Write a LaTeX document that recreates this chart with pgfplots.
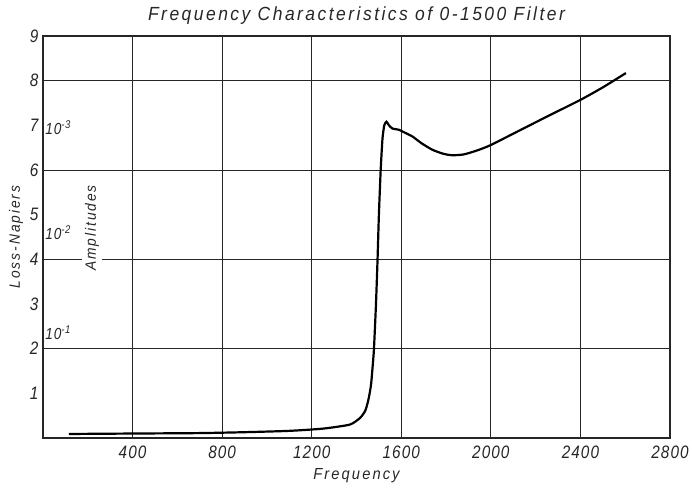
\documentclass[border=0pt]{standalone}
\usepackage{pgfplots}
\pgfplotsset{compat=1.18}
\usepackage{fontspec}
\setmainfont{Liberation Sans}
\newfontfamily\lett[LetterSpace=13, FakeStretch=0.92]{Liberation Sans}
\newfontfamily\digs[LetterSpace=6, FakeStretch=0.85]{Liberation Sans}
\begin{document}
\begin{tikzpicture}
\useasboundingbox (-43pt,-49pt) rectangle (649pt,438pt);
\begin{axis}[
  at={(0,0)}, anchor=south west,
  scale only axis, width=627pt, height=402pt,
  xmin=0, xmax=2800, ymin=0, ymax=9,
  xtick={400,800,...,2800}, ytick={1,...,9},
  xmajorgrids,
  extra y ticks={2,4,6,8}, extra y tick labels={},
  extra y tick style={ymajorgrids=true},
  grid style={black!85, line width=0.8pt},
  major tick length=0pt,
  axis line style={line width=1.1pt, black!85},
  /pgf/number format/assume math mode=true,
  /pgf/number format/1000 sep={},
  tick label style={font=\digs\itshape\fontsize{18}{18}\selectfont, black!85},
  yticklabel style={xshift=-1pt},
  xticklabel style={yshift=-4pt},
  title={Frequency Characteristics of 0-1500 Filter},
  title style={at={(axis description cs:0.5,1)}, anchor=center, yshift=14pt,
    font=\lett\itshape\fontsize{19}{19}\selectfont, black!85},
  xlabel={Frequency},
  xlabel style={at={(axis description cs:0.5,0)}, anchor=center, yshift=-38pt,
    font=\lett\itshape\fontsize{16}{16}\selectfont, black!85},
  ylabel={Loss-Napiers},
  ylabel style={at={(axis description cs:-0.043,0.5)}, anchor=center,
    font=\lett\itshape\fontsize{15}{15}\selectfont, black!85},
]
\addplot[black, line width=2.2pt, smooth, tension=0.35] coordinates {
(116,0.09) (400,0.10) (700,0.11) (900,0.13) (1100,0.16) (1250,0.21)
(1370,0.30) (1416,0.45) (1440,0.62) (1455,0.9) (1465,1.2) (1472,1.6)
(1478,2.0) (1487,3.0) (1494,4.0) (1500,5.0) (1508,6.0) (1516,6.7)
(1524,7.0) (1534,7.08) (1545,7.0) (1560,6.93) (1590,6.90) (1610,6.85)
(1650,6.75) (1690,6.6) (1740,6.45) (1790,6.36) (1830,6.33) (1880,6.35)
(1940,6.44) (2000,6.56) (2130,6.89) (2260,7.22) (2400,7.57) (2500,7.85)
(2603,8.17)
};
\node[rotate=90, fill=white, inner sep=3pt, font=\lett\itshape\fontsize{15}{15}\selectfont, text=black!85]
  at (axis cs:219,4.7) {Amplitudes};
\node[anchor=west, inner sep=1pt, font=\digs\itshape\fontsize{16}{16}\selectfont, text=black!85]
  at (axis cs:5,6.95) {10\textsuperscript{-3}};
\node[anchor=west, inner sep=1pt, font=\digs\itshape\fontsize{16}{16}\selectfont, text=black!85]
  at (axis cs:5,4.6) {10\textsuperscript{-2}};
\node[anchor=west, inner sep=1pt, font=\digs\itshape\fontsize{16}{16}\selectfont, text=black!85]
  at (axis cs:5,2.35) {10\textsuperscript{-1}};
\end{axis}
\end{tikzpicture}
\end{document}
